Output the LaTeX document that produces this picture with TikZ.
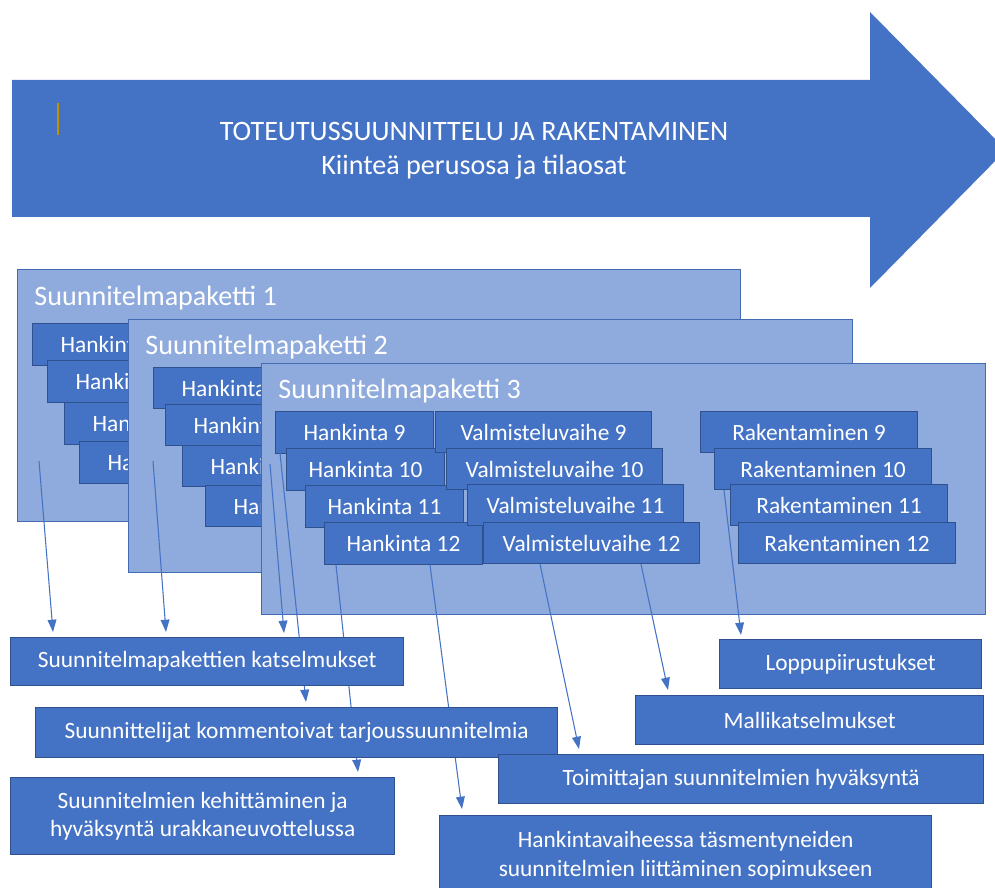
\documentclass[tikz,border=0pt]{standalone}
\usepackage{fontspec}
\setmainfont{Carlito}
\usetikzlibrary{arrows.meta,calc,positioning}
\definecolor{planBlue}{RGB}{68,114,196}
\definecolor{planEdge}{RGB}{47,82,143}
\definecolor{packFill}{RGB}{143,170,220}
\definecolor{packEdge}{RGB}{68,106,180}
\definecolor{markGold}{RGB}{191,144,0}
\pgfdeclarelayer{front}
\pgfsetlayers{main,front}
\tikzset{wh/.style 2 args={minimum width=#1*0.02cm,minimum height=#2*0.02cm}}

\begin{document}
\begin{tikzpicture}[x=0.02cm,y=-0.02cm,
  pkg/.style={rectangle,anchor=north west,fill=packFill,draw=packEdge,line width=0.6pt,inner sep=0pt},
  ptitle/.style={anchor=west,text=white,font=\fontsize{16}{19}\selectfont,inner sep=0pt},
  item/.style={rectangle,anchor=north west,fill=planBlue,draw=planEdge,line width=0.6pt,
               text=white,font=\fontsize{13.3}{16}\selectfont,inner sep=0pt},
  task/.style={rectangle,anchor=north west,fill=planBlue,draw=planEdge,line width=0.8pt,
               text=white,font=\fontsize{13.3}{16.2}\selectfont,align=center,inner sep=0pt},
  conn/.style={-{Triangle[length=7pt,width=5pt]},draw=planBlue,line width=0.6pt}
]
  \useasboundingbox (0,0) rectangle (995,888);

  % phase arrow
  \fill[planBlue] (12,80) -- (870,80) -- (870,12) -- (1006,150) -- (870,288) -- (870,217) -- (12,217) -- cycle;
  \draw[markGold,line width=0.8pt] (58,103) -- (58,135);
  \node[text=white,align=center,font=\fontsize{16}{19.4}\selectfont] (phase) at (474,151)
      {TOTEUTUSSUUNNITTELU JA RAKENTAMINEN\\Kiinteä perusosa ja tilaosat};

  % ── Suunnitelmapaketti 1 ──
  \node[pkg,wh={723}{252}] (pk1) at (17,269) {};
  \node[ptitle] (t1) at (34,298) {Suunnitelmapaketti 1};
  \foreach \i/\x/\y in {1/32/323,2/47/360,3/64/402,4/79/441}
    \node[item,wh={158}{42}] (hk\i) at (\x,\y) {Hankinta \i};

  % ── Suunnitelmapaketti 2 ──
  \node[pkg,wh={724}{253}] (pk2) at (128,319) {};
  \node[ptitle] (t2) at (145,347) {Suunnitelmapaketti 2};
  \foreach \i/\x/\y in {5/153/367,6/165/404,7/182/445,8/205/485}
    \node[item,wh={158}{41}] (hk\i) at (\x,\y) {Hankinta \i};

  % ── Suunnitelmapaketti 3 ──
  \node[pkg,wh={724}{251}] (pk3) at (261,363) {};
  \node[ptitle] (t3) at (278,391) {Suunnitelmapaketti 3};
  \foreach \i/\x/\y in {9/275/411,10/286/448,11/305/485,12/324/522}
    \node[item,wh={158}{42}] (hk\i) at (\x,\y) {Hankinta \i};
  \foreach \i/\x/\y in {9/435/411,10/446/448,11/467/484,12/483/522}
    \node[item,wh={216}{41}] (vm\i) at (\x,\y) {Valmisteluvaihe \i};
  \foreach \i/\x/\y in {9/700/411,10/714/448,11/730/484,12/738/522}
    \node[item,wh={217}{41}] (rk\i) at (\x,\y) {Rakentaminen \i};

  % ── tehtävät ──
  \begin{pgfonlayer}{front}
    \node[task,wh={393}{48}] (kats) at (10,637) {Suunnitelmapakettien katselmukset};
    \node[task,wh={522}{50}] (komm) at (35,707) {Suunnittelijat kommentoivat tarjoussuunnitelmia};
    \node[task,wh={384}{77}] (kehit) at (10,777) {Suunnitelmien kehittäminen ja\\hyväksyntä urakkaneuvottelussa};
    \node[task,wh={262}{49}] (lopp) at (719,639) {Loppupiirustukset};
    \node[task,wh={348}{49}] (mall) at (635,695) {Mallikatselmukset};
    \node[task,wh={485}{49}] (toim) at (498,754) {Toimittajan suunnitelmien hyväksyntä};
    \node[task,wh={492}{80}] (hank) at (439,815) {Hankintavaiheessa täsmentyneiden\\suunnitelmien liittäminen sopimukseen};
  \end{pgfonlayer}

  % ── yhteydet ──
  \draw[conn] ($(pk1.south west)+(22,-61)$) -- ($(kats.north west)+(43,-5)$);
  \draw[conn] ($(pk2.south west)+(25,-112)$) -- ($(kats.north west)+(156,-5)$);
  \draw[conn] ($(pk3.south west)+(9,-151)$) -- ($(kats.north west)+(274,-4)$);
  \draw[conn] ($(pk3.south west)+(19,-162)$) -- ($(komm.north west)+(271,-5)$);
  \draw[conn] ($(hk12.south west)+(12,0)$) -- ($(kehit.north west)+(348,-5)$);
  \draw[conn] ($(hk12.south west)+(106,0)$) -- ($(hank.north west)+(23,-6)$);
  \draw[conn] ($(vm12.south west)+(57,0)$) -- ($(toim.north west)+(81,-5)$);
  \draw[conn] ($(vm12.south west)+(158,0)$) -- ($(mall.north west)+(33,-5)$);
  \draw[conn] ($(rk10.south west)+(10,0)$) -- ($(lopp.north west)+(22,-4)$);
\end{tikzpicture}
\end{document}
